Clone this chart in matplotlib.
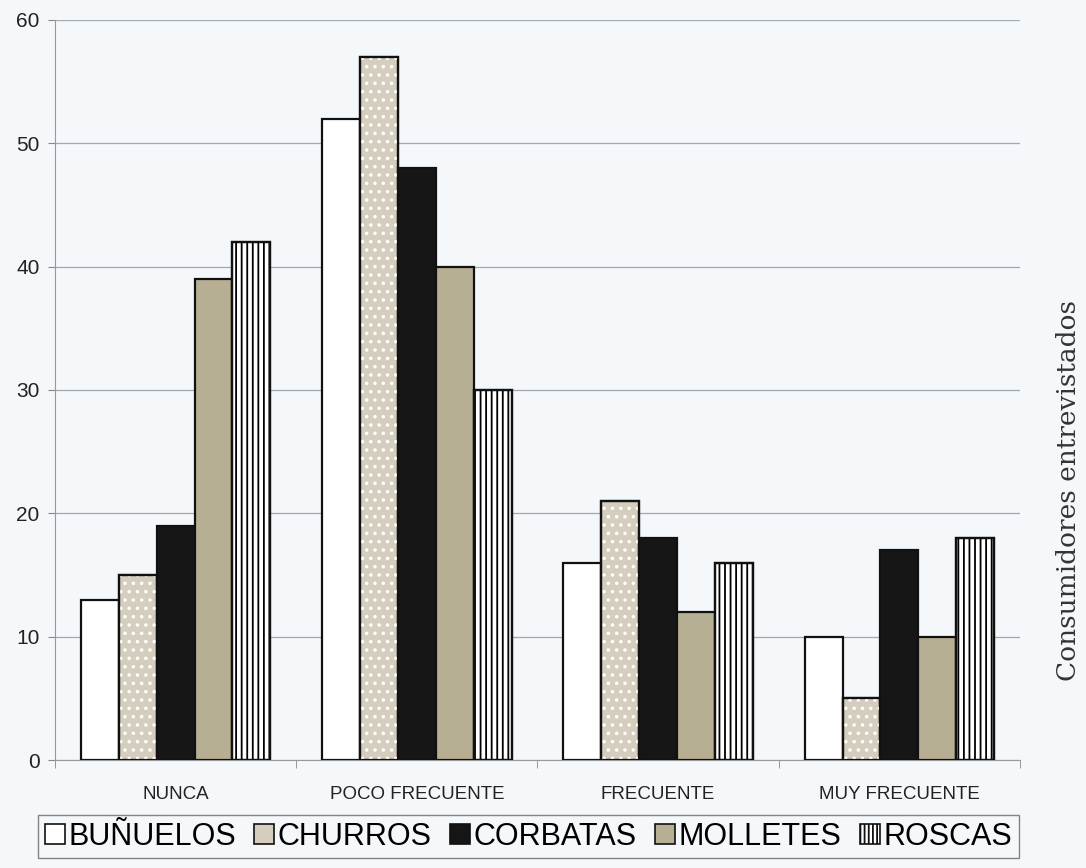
"""Consumo de productos de panadería según frecuencia (barras agrupadas)."""

import numpy as np
import matplotlib
matplotlib.use("Agg")
import matplotlib.pyplot as plt
from matplotlib.patches import Patch

categorias = ["NUNCA", "POCO FRECUENTE", "FRECUENTE", "MUY FRECUENTE"]
productos = ["BUÑUELOS", "CHURROS", "CORBATAS", "MOLLETES", "ROSCAS"]

bunuelos = [13, 52, 16, 10]
churros = [15, 57, 21, 5]
corbatas = [19, 48, 18, 17]
molletes = [39, 40, 12, 10]
roscas = [42, 30, 16, 18]

series = [bunuelos, churros, corbatas, molletes, roscas]

# estilo de cada serie: (relleno, trama, color de la trama)
estilos = [
    ("white", None, None),
    ("#d5cebf", "..", "white"),
    ("#161616", None, None),
    ("#b7af93", None, None),
    ("white", "|||", "black"),
]

bg = "#f4f8fb"
plt.rcParams["font.family"] = ["Liberation Sans", "DejaVu Sans"]
plt.rcParams["hatch.linewidth"] = 1.3

fig = plt.figure(figsize=(10.86, 8.68), dpi=100, facecolor=bg)
ax = fig.add_axes([0.0506, 0.1244, 0.8886, 0.8526], facecolor=bg)

x = np.arange(len(categorias))
ancho = 0.157
for i, (valores, (color, trama, ctrama)) in enumerate(zip(series, estilos)):
    pos = x + (i - 2) * ancho
    ax.bar(pos, valores, width=ancho, color=color, edgecolor="#111111",
           linewidth=1.6, zorder=3)
    if trama:
        ax.bar(pos, valores, width=ancho, color="none", edgecolor=ctrama,
               hatch=trama, linewidth=0, zorder=4)
        ax.bar(pos, valores, width=ancho, color="none", edgecolor="#111111",
               linewidth=1.6, zorder=5)

ax.set_xlim(-0.5, len(categorias) - 0.5)
ax.set_ylim(0, 60)
ax.set_yticks(range(0, 61, 10))
ax.yaxis.grid(True, color="#a2a8ae", linewidth=0.9, zorder=0)
ax.set_axisbelow(True)

ax.set_xticks(x)
ax.set_xticklabels(categorias, fontsize=13.5, color="#222222")
ax.set_xticks(np.arange(-0.5, len(categorias)), minor=True)
ax.tick_params(axis="x", which="major", length=0, pad=19)
ax.tick_params(axis="x", which="minor", length=6, color="#888888")
ax.tick_params(axis="y", labelsize=15, length=5, color="#888888",
               labelcolor="#222222", pad=6)

for lado in ["top", "right"]:
    ax.spines[lado].set_visible(False)
ax.spines["left"].set_color("#999999")
ax.spines["bottom"].set_color("#999999")

fig.text(0.984, 0.435, "Consumidores entrevistados", rotation=90,
         ha="center", va="center", fontsize=19,
         family=["DejaVu Serif"], color="#333333")

manijas = []
for nombre, (color, trama, ctrama) in zip(productos, estilos):
    if trama == "|||":
        manijas.append(Patch(facecolor=color, edgecolor="#111111", hatch="||||",
                             linewidth=1.2, label=nombre))
    else:
        manijas.append(Patch(facecolor=color, edgecolor="#111111",
                             linewidth=1.2, label=nombre))

leg = fig.legend(handles=manijas, loc="center", bbox_to_anchor=(0.4866, 0.036),
                 ncol=5, fontsize=22, frameon=True, fancybox=False,
                 handlelength=0.65, handleheight=0.65, handletextpad=0.12,
                 columnspacing=0.6, borderpad=0.22, borderaxespad=0)
leg.get_frame().set_edgecolor("#666666")
leg.get_frame().set_facecolor(bg)
leg.get_frame().set_linewidth(1.0)

fig.savefig("out.png", dpi=100, facecolor=bg)
